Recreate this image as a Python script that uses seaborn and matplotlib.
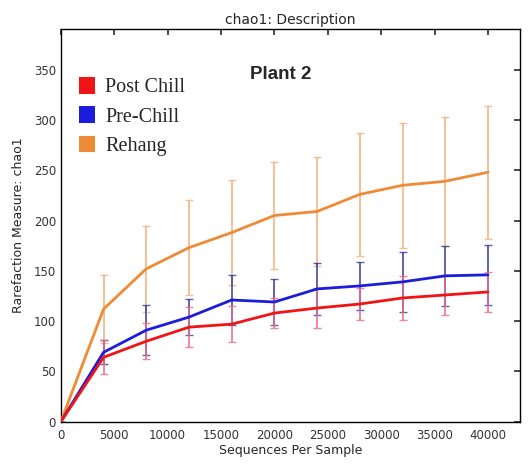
import numpy as np
import pandas as pd
import matplotlib
matplotlib.use("Agg")
import matplotlib.pyplot as plt
import seaborn as sns
from matplotlib.patches import Patch

sns.set_theme(style="white")
plt.rcParams["font.family"] = ["DejaVu Sans"]

# ---------------------------------------------------------
# Data
# ---------------------------------------------------------
depth = [0, 4000, 8000, 12000, 16000, 20000, 24000, 28000, 32000, 36000, 40000]

post_chill = [0, 64, 80, 94, 97, 108, 113, 117, 123, 126, 129]
post_chill_err = [0, 17, 18, 20, 18, 15, 20, 16, 22, 20, 20]

pre_chill = [0, 69, 91, 104, 121, 119, 132, 135, 139, 145, 146]
pre_chill_err = [0, 12, 25, 18, 25, 23, 26, 24, 30, 30, 30]

rehang = [0, 112, 152, 173, 188, 205, 209, 226, 235, 239, 248]
rehang_err = [0, 34, 43, 47, 52, 53, 54, 61, 62, 64, 66]

groups = ["Post Chill", "Pre-Chill", "Rehang"]
colors = {"Post Chill": "#f01414", "Pre-Chill": "#1c1cdc", "Rehang": "#ef8a35"}
err_colors = {"Post Chill": "#e86a8a", "Pre-Chill": "#3a3a9a", "Rehang": "#f5b07a"}

df = pd.DataFrame({
    "Sequences": depth * 3,
    "chao1": post_chill + pre_chill + rehang,
    "err": post_chill_err + pre_chill_err + rehang_err,
    "Group": sum([[g] * len(depth) for g in groups], []),
})

# ---------------------------------------------------------
# Plot
# ---------------------------------------------------------
fig = plt.figure(figsize=(5.29, 4.66), dpi=100)
ax = fig.add_axes([0.115, 0.095, 0.868, 0.842])

# error bars first so the lines sit on top
for g in ["Rehang", "Pre-Chill", "Post Chill"]:
    sub = df[df["Group"] == g]
    ax.errorbar(sub["Sequences"], sub["chao1"], yerr=sub["err"], fmt="none",
                ecolor=err_colors[g], elinewidth=1.4, capsize=3, alpha=0.8, zorder=2)

sns.lineplot(data=df, x="Sequences", y="chao1", hue="Group", palette=colors,
             hue_order=["Rehang", "Pre-Chill", "Post Chill"], linewidth=2,
             legend=False, ax=ax, zorder=3)

ax.set_xlim(0, 43000)
ax.set_ylim(0, 390)
ax.set_xticks(range(0, 40001, 5000))
ax.set_yticks(range(0, 351, 50))
ax.tick_params(direction="in", top=True, right=True, length=4, labelsize=8.5,
               colors="#333333")
ax.tick_params(axis="x", pad=5)
for s in ax.spines.values():
    s.set_color("black")
    s.set_linewidth(1)

ax.set_title("chao1: Description", fontsize=10, pad=4)
ax.set_xlabel("Sequences Per Sample", fontsize=9, labelpad=2)
ax.set_ylabel("Rarefaction Measure: chao1", fontsize=9, labelpad=6)

ax.text(20600, 345, "Plant 2", fontsize=13.5, fontweight="bold",
        family="Liberation Sans", ha="center", va="center")

handles = [Patch(facecolor=colors[g], edgecolor="none") for g in groups]
ax.legend(handles, groups, loc="upper left", bbox_to_anchor=(0.0, 0.925),
          frameon=False, prop={"family": "Liberation Serif", "size": 14.5},
          handlelength=0.8, handleheight=0.9, handletextpad=0.5, labelspacing=0.45)

fig.savefig("out.png", dpi=100)
